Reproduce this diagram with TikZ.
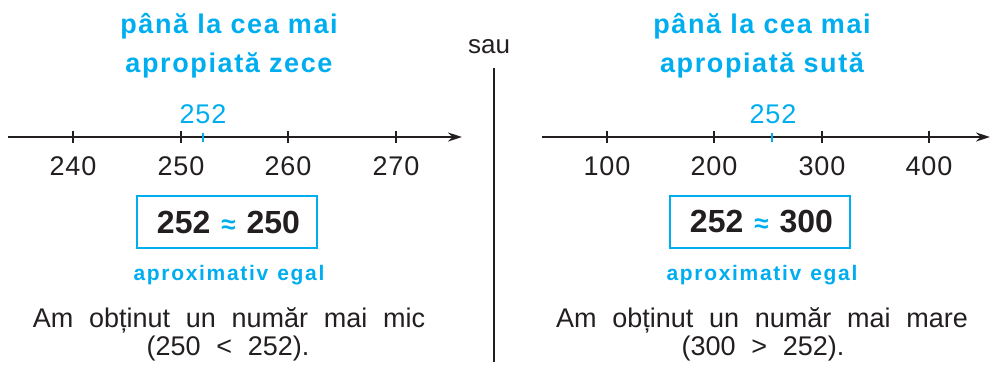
\documentclass[tikz,border=0pt]{standalone}
\usepackage{fontspec}
\setmainfont{Liberation Sans}[WordSpace=2.1]
\newfontfamily\headfont{Liberation Sans}[LetterSpace=6, WordSpace=1.0]
\newfontfamily\capfont{Liberation Sans}[LetterSpace=8, WordSpace=1.2]
\newfontfamily\numfont{Liberation Sans}[LetterSpace=3]
\usetikzlibrary{arrows.meta}
\definecolor{cyanb}{HTML}{00AEEF}
\definecolor{ink}{HTML}{231F20}

\begin{document}
\begin{tikzpicture}[x=1pt,y=-1pt,
  axisline/.style={draw=ink, line width=2pt, -{Stealth[length=14pt,width=9pt]}},
  tickmark/.style={draw=ink, line width=2pt},
  bluemark/.style={draw=cyanb, line width=2.4pt},
  numlbl/.style={font=\numfont\fontsize{27}{30}\selectfont, text=ink, anchor=base, inner sep=0pt},
  bluenum/.style={font=\numfont\fontsize{27}{30}\selectfont, text=cyanb, anchor=base, inner sep=0pt},
  heading/.style={font=\headfont\fontsize{27}{30}\selectfont\bfseries, text=cyanb, anchor=base, inner sep=0pt},
  approxbox/.style={draw=cyanb, line width=2.5pt, minimum width=180pt, minimum height=52pt,
    inner sep=0pt, font=\fontsize{32}{36}\selectfont\bfseries, text=ink},
  caption/.style={font=\capfont\fontsize{21}{24}\selectfont\bfseries, text=cyanb, anchor=base, inner sep=0pt},
  remark/.style={font=\fontsize{27}{32}\selectfont, text=ink, anchor=base, inner sep=0pt}]
\useasboundingbox (0,0) rectangle (990,367);
\newcommand\approxsign{{\fontsize{26}{30}\selectfont\color{cyanb}≈}}

% ---------- left half: rounding to the nearest ten ----------
\node[heading] (hL1) at (229,33) {până la cea mai};
\node[heading] (hL2) at (229,72) {apropiată zece};

\coordinate (aL0) at (8,137);
\coordinate (aL1) at (462,137);
\draw[axisline] (aL0) -- (aL1);
\foreach \n/\x in {240/73,250/181,260/288,270/396}{
  \coordinate (tL\n) at (\x,137);
  \draw[tickmark] ([yshift=6pt]tL\n) -- ([yshift=-6pt]tL\n);
  \node[numlbl] (nL\n) at (\x,175) {\n};
}
\coordinate (pL) at (203,137);
\draw[bluemark] ([yshift=4pt]pL) -- ([yshift=-5pt]pL);
\node[bluenum] (vL) at (203,123) {252};

\node[approxbox] (bL) at (227,222) {\hspace{3pt}252\hspace{11pt}\approxsign\hspace{11pt}250};
\node[caption] (cL) at (229,280) {aproximativ egal};
\node[remark] (rL1) at (229,327) {Am obținut un număr mai mic};
\node[remark] (rL2) at (228,355) {(250 < 252).};

% ---------- separator ----------
\node[font=\fontsize{26}{30}\selectfont, text=ink, anchor=base, inner sep=0pt] (sau) at (489,53) {sau};
\coordinate (sepT) at (494,68);
\coordinate (sepB) at (494,362);
\draw[draw=ink, line width=1.5pt] (sepT) -- (sepB);

% ---------- right half: rounding to the nearest hundred ----------
\node[heading] (hR1) at (762,33) {până la cea mai};
\node[heading] (hR2) at (762,72) {apropiată sută};

\coordinate (aR0) at (542,137);
\coordinate (aR1) at (990,137);
\draw[axisline] (aR0) -- (aR1);
\foreach \n/\x in {100/607,200/714,300/822,400/929}{
  \coordinate (tR\n) at (\x,137);
  \draw[tickmark] ([yshift=6pt]tR\n) -- ([yshift=-6pt]tR\n);
  \node[numlbl] (nR\n) at (\x,175) {\n};
}
\coordinate (pR) at (772,137);
\draw[bluemark] ([yshift=4pt]pR) -- ([yshift=-5pt]pR);
\node[bluenum] (vR) at (773,123) {252};

\node[approxbox] (bR) at (760,222) {\hspace{3pt}252\hspace{11pt}\approxsign\hspace{11pt}300};
\node[caption] (cR) at (762,280) {aproximativ egal};
\node[remark] (rR1) at (762,327) {Am obținut un număr mai mare};
\node[remark] (rR2) at (763,355) {(300 > 252).};
\end{tikzpicture}
\end{document}
